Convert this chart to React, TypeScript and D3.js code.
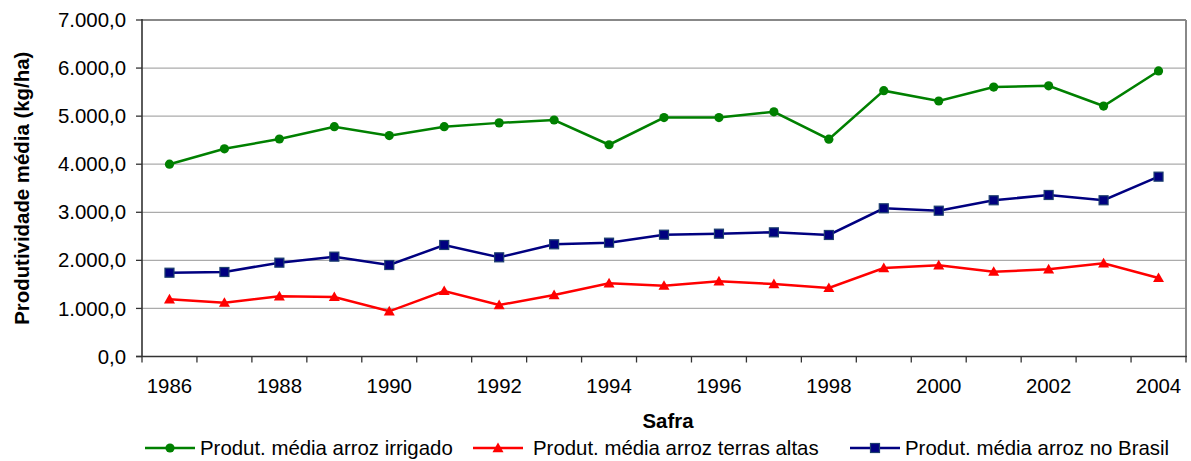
import React from "react";
import * as d3 from "d3";

const years = [1986,1987,1988,1989,1990,1991,1992,1993,1994,1995,1996,1997,1998,1999,2000,2001,2002,2003,2004];
const irrigado = [4000,4320,4525,4780,4595,4780,4860,4920,4405,4970,4970,5090,4520,5530,5315,5605,5630,5210,5940];
const terrasAltas = [1190,1120,1252,1238,940,1363,1071,1279,1523,1473,1564,1508,1425,1841,1897,1764,1814,1939,1633];
const brasil = [1743,1758,1952,2077,1903,2320,2063,2334,2368,2534,2555,2583,2528,3083,3033,3250,3360,3250,3741];
const yTicks = [0,1000,2000,3000,4000,5000,6000,7000];
const xLabelYears = [1986,1988,1990,1992,1994,1996,1998,2000,2002,2004];

const seriesNames = ["Produt. média arroz irrigado", "Produt. média arroz terras altas", "Produt. média arroz no Brasil"];
const seriesColors = ["#008000", "#FF0000", "#000080"];
const seriesMarkers = ["circle", "triangle", "square"];
const seriesData = [irrigado, terrasAltas, brasil];

const FONT = "'Liberation Sans', Arial, sans-serif";
const FS = 20.4;

const locale = d3.formatLocale({ decimal: ",", thousands: ".", grouping: [3], currency: ["R$", ""] });
const fmt = locale.format(",.1f");

function Marker({ type, x, y, color }: { type: string; x: number; y: number; color: string }) {
  if (type === "circle") return <circle cx={x} cy={y} r={4.6} fill={color} />;
  if (type === "square")
    return <rect x={x - 4.5} y={y - 4.5} width={9} height={9} fill={color} stroke="#1d3f6e" strokeWidth={1.2} />;
  const s = 5.5;
  return <path d={`M${x},${y - s}L${x + s},${y + s * 0.75}L${x - s},${y + s * 0.75}Z`} fill={color} />;
}

export default function App() {
  const W = 1191, H = 461;
  const left = 142, right = 1186, top = 20, bottom = 356.5;
  const x = d3.scaleBand<number>().domain(years).range([left, right]).padding(0);
  const y = d3.scaleLinear().domain([0, 7000]).range([bottom, top]);
  const cx = (yr: number) => (x(yr) as number) + x.bandwidth() / 2;
  const line = d3.line<number>().x((_, i) => cx(years[i])).y((v) => y(v));

  const legendItems = [
    { lx: 145, tx: 200 },
    { lx: 473, tx: 533 },
    { lx: 850, tx: 905 },
  ];

  return (
    <svg width={W} height={H} style={{ position: "absolute", left: 0, top: 0, background: "#fff" }} fontFamily={FONT}>
      {yTicks.filter((t) => t > 0 && t < 7000).map((t) => (
        <line key={t} x1={left} x2={right} y1={y(t)} y2={y(t)} stroke="#ababab" strokeWidth={1.3} />
      ))}
      <line x1={left} x2={right} y1={top} y2={top} stroke="#888" strokeWidth={2} />
      <line x1={right} x2={right} y1={top} y2={bottom} stroke="#888" strokeWidth={2} />
      <line x1={left} x2={left} y1={top - 1} y2={bottom} stroke="#333" strokeWidth={1.6} />
      <line x1={left - 6} x2={right + 1} y1={bottom} y2={bottom} stroke="#333" strokeWidth={1.6} />
      {yTicks.map((t) => (
        <g key={t}>
          <line x1={left - 6} x2={left} y1={y(t)} y2={y(t)} stroke="#333" strokeWidth={1.3} />
          <text x={126} y={y(t)} dy="0.35em" textAnchor="end" fontSize={FS} fill="#000">{fmt(t)}</text>
        </g>
      ))}
      {years.map((yr) => (
        <line key={yr} x1={x(yr)} x2={x(yr)} y1={bottom} y2={bottom + 6} stroke="#333" strokeWidth={1.3} />
      ))}
      <line x1={right} x2={right} y1={bottom} y2={bottom + 6} stroke="#333" strokeWidth={1.3} />
      {xLabelYears.map((yr) => (
        <text key={yr} x={cx(yr)} y={393} textAnchor="middle" fontSize={FS} fill="#000">{yr}</text>
      ))}
      {seriesData.map((data, si) => (
        <g key={si}>
          <path d={line(data) || ""} fill="none" stroke={seriesColors[si]} strokeWidth={2.5} />
          {data.map((v, i) => (
            <Marker key={i} type={seriesMarkers[si]} x={cx(years[i])} y={y(v)} color={seriesColors[si]} />
          ))}
        </g>
      ))}
      <text x={668} y={428} textAnchor="middle" fontSize={FS} fontWeight="bold">Safra</text>
      <text transform={`translate(29,${(top + bottom) / 2}) rotate(-90)`} textAnchor="middle" fontSize={FS} fontWeight="bold">
        Produtividade média (kg/ha)
      </text>
      {legendItems.map((it, si) => (
        <g key={si}>
          <line x1={it.lx} x2={it.lx + 50} y1={448} y2={448} stroke={seriesColors[si]} strokeWidth={2.5} />
          <Marker type={seriesMarkers[si]} x={it.lx + 25} y={448} color={seriesColors[si]} />
          <text x={it.tx} y={448} dy="0.35em" fontSize={FS} fill="#000">{seriesNames[si]}</text>
        </g>
      ))}
    </svg>
  );
}
